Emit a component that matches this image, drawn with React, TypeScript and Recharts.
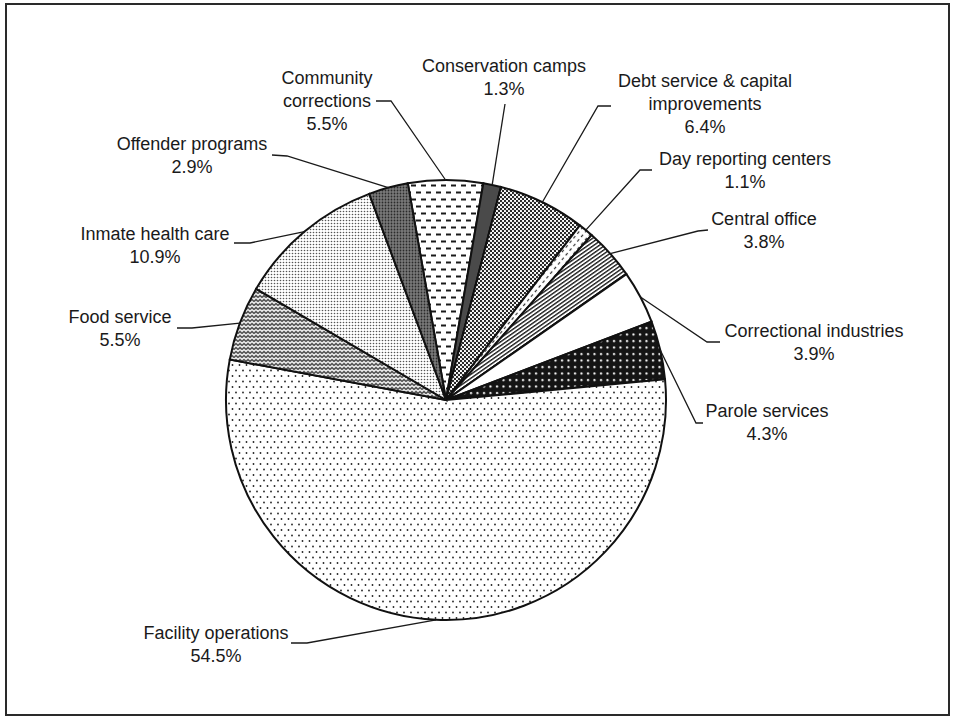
import { Cell, Pie, PieChart } from "recharts"

// slices in clockwise order, starting just left of twelve o'clock
const categories = [
  "Community corrections",
  "Conservation camps",
  "Debt service & capital improvements",
  "Day reporting centers",
  "Central office",
  "Correctional industries",
  "Parole services",
  "Facility operations",
  "Food service",
  "Inmate health care",
  "Offender programs",
]

const shares = [5.5, 1.3, 6.4, 1.1, 3.8, 3.9, 4.3, 54.5, 5.5, 10.9, 2.9]

// how each category name is broken over lines in the label
const labelLines = [
  ["Community", "corrections"],
  ["Conservation camps"],
  ["Debt service & capital", "improvements"],
  ["Day reporting centers"],
  ["Central office"],
  ["Correctional industries"],
  ["Parole services"],
  ["Facility operations"],
  ["Food service"],
  ["Inmate health care"],
  ["Offender programs"],
]

const fills = [
  "url(#pDash)",
  "#4a4a4a",
  "url(#pPebble)",
  "url(#pSmallDash)",
  "url(#pStripe)",
  "#ffffff",
  "url(#pWhiteDots)",
  "url(#pSparseDots)",
  "url(#pWeave)",
  "url(#pFineDots)",
  "url(#pDarkDots)",
]

// label placement: text centre x, first line y, leader start points (the slice edge is appended)
const labelSpots = [
  { x: 327, y: 78, leader: [[376, 101], [391, 101]] },
  { x: 504, y: 66, leader: [[505, 104]] },
  { x: 705, y: 81, leader: [[611, 106], [598, 106]] },
  { x: 745, y: 159, leader: [[652, 170], [640, 170]] },
  { x: 764, y: 219, leader: [[708, 230], [698, 231]] },
  { x: 814, y: 331, leader: [[720, 342], [707, 342]] },
  { x: 767, y: 411, leader: [[703, 423], [696, 423]] },
  { x: 216, y: 633, leader: [[291, 643], [307, 643]] },
  { x: 120, y: 317, leader: [[177, 328], [192, 328]] },
  { x: 155, y: 234, leader: [[234, 243], [250, 243]] },
  { x: 192, y: 144, leader: [[272, 155], [287, 156]] },
]

const data = categories.map((name, i) => ({ name, value: shares[i] }))

const RADIAN = Math.PI / 180
const LINE_H = 23

// eslint-disable-next-line @typescript-eslint/no-explicit-any
const renderLabel = (props: any) => {
  const { cx, cy, midAngle, outerRadius, index } = props
  const ex = cx + outerRadius * Math.cos(-midAngle * RADIAN)
  const ey = cy + outerRadius * Math.sin(-midAngle * RADIAN)
  const spot = labelSpots[index]
  const pts = [...spot.leader, [ex, ey]].map((p) => p.join(",")).join(" ")
  const lines = [...labelLines[index], `${shares[index].toFixed(1)}%`]
  return (
    <g key={`lbl-${index}`}>
      <polyline points={pts} fill="none" stroke="#1a1a1a" strokeWidth={1.3} />
      {lines.map((t, k) => (
        <text
          key={k}
          x={spot.x}
          y={spot.y + k * LINE_H}
          textAnchor="middle"
          dominantBaseline="central"
          fontFamily="'Liberation Sans', Arial, sans-serif"
          fontSize={18}
          fill="#1a1a1a"
        >
          {t}
        </text>
      ))}
    </g>
  )
}

export default function App() {
  return (
    <div style={{ position: "absolute", left: 0, top: 0, width: 953, height: 717, background: "#fff" }}>
      <div
        style={{
          position: "absolute",
          left: 5,
          top: 3,
          width: 941,
          height: 709,
          border: "2px solid #2a2a2a",
        }}
      />
      <PieChart width={953} height={717} style={{ position: "absolute", left: 0, top: 0 }}>
        <defs>
          <pattern id="pDash" width="10" height="14" patternUnits="userSpaceOnUse">
            <rect width="10" height="14" fill="#fff" />
            <path d="M1 3.5h5M6 10.5h5M-4 10.5h5" stroke="#1a1a1a" strokeWidth="1.8" />
          </pattern>
          <pattern id="pPebble" width="4" height="4" patternUnits="userSpaceOnUse">
            <rect width="4" height="4" fill="#fff" />
            <circle cx="1" cy="1" r="1.15" fill="#1e1e1e" />
            <circle cx="3" cy="3" r="1.15" fill="#1e1e1e" />
          </pattern>
          <pattern id="pSmallDash" width="6" height="5" patternUnits="userSpaceOnUse" patternTransform="rotate(-50)">
            <rect width="6" height="5" fill="#fff" />
            <path d="M0 2.5h3" stroke="#333" strokeWidth="1.2" />
          </pattern>
          <pattern id="pStripe" width="4" height="3.2" patternUnits="userSpaceOnUse" patternTransform="rotate(-35)">
            <rect width="4" height="3.2" fill="#fff" />
            <rect width="4" height="1.4" fill="#1e1e1e" />
          </pattern>
          <pattern id="pWhiteDots" width="6.5" height="6.5" patternUnits="userSpaceOnUse">
            <rect width="6.5" height="6.5" fill="#141414" />
            <circle cx="3" cy="3" r="1.1" fill="#fff" />
          </pattern>
          <pattern id="pSparseDots" width="7" height="11" patternUnits="userSpaceOnUse">
            <rect width="7" height="11" fill="#fff" />
            <circle cx="1.5" cy="2" r="0.9" fill="#222" />
            <circle cx="5" cy="7.5" r="0.9" fill="#222" />
          </pattern>
          <pattern id="pWeave" width="8" height="8" patternUnits="userSpaceOnUse">
            <rect width="8" height="8" fill="#5c5c5c" />
            <path d="M0 1.5l2 2l2-2l2 2l2-2M0 5.5l2 2l2-2l2 2l2-2" fill="none" stroke="#fff" strokeWidth="1.1" />
          </pattern>
          <pattern id="pFineDots" width="3" height="3" patternUnits="userSpaceOnUse">
            <rect width="3" height="3" fill="#fff" />
            <circle cx="1.5" cy="1.5" r="0.8" fill="#555" />
          </pattern>
          <pattern id="pDarkDots" width="3" height="3" patternUnits="userSpaceOnUse">
            <rect width="3" height="3" fill="#7a7a7a" />
            <circle cx="1.5" cy="1.5" r="0.9" fill="#2a2a2a" />
          </pattern>
        </defs>
        <Pie
          data={data}
          dataKey="value"
          nameKey="name"
          cx={441}
          cy={395}
          outerRadius={220}
          startAngle={100}
          endAngle={-260}
          stroke="#111"
          strokeWidth={2}
          label={renderLabel}
          labelLine={false}
          isAnimationActive={false}
        >
          {data.map((d, i) => (
            <Cell key={d.name} fill={fills[i]} />
          ))}
        </Pie>
      </PieChart>
    </div>
  )
}
